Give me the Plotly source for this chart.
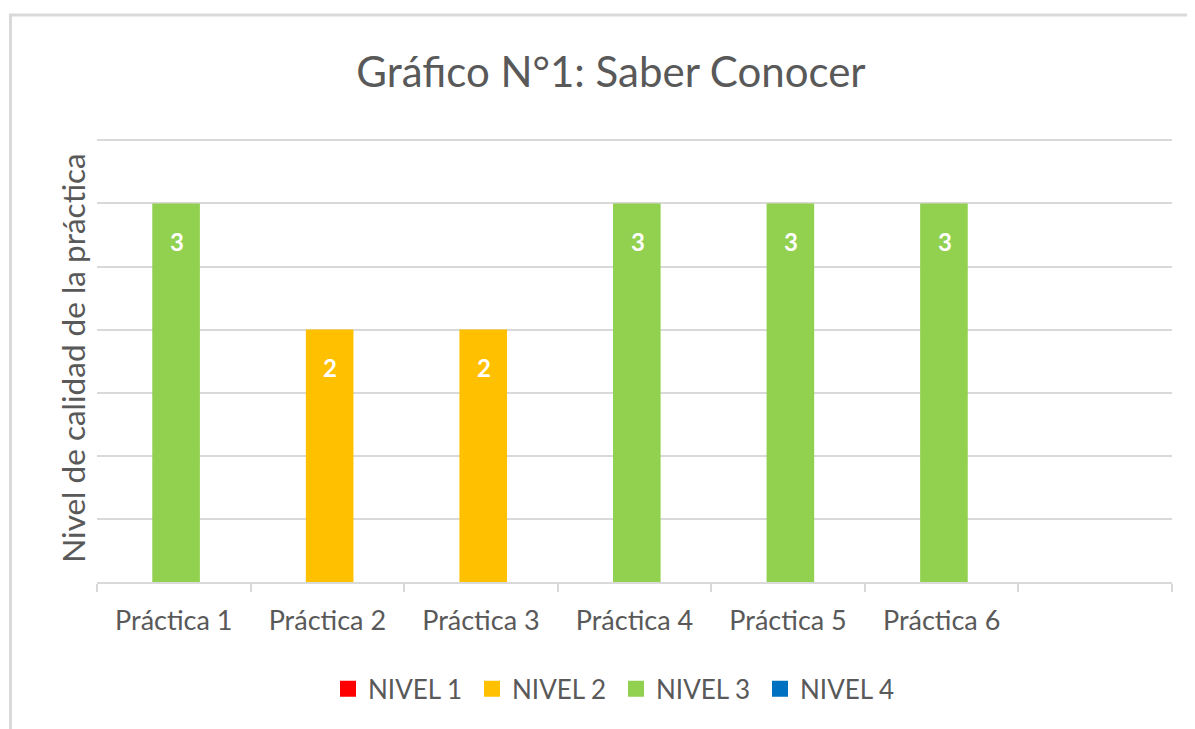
import plotly.graph_objects as go

# --- datos ---
practicas = ["Práctica 1", "Práctica 2", "Práctica 3", "Práctica 4", "Práctica 5", "Práctica 6", " "]
nivel_1 = [None, None, None, None, None, None, None]
nivel_2 = [None, 2, 2, None, None, None, None]
nivel_3 = [3, None, None, 3, 3, 3, None]
nivel_4 = [None, None, None, None, None, None, None]

series = [
    ("NIVEL 1", nivel_1, "#FF0000"),
    ("NIVEL 2", nivel_2, "#FFC000"),
    ("NIVEL 3", nivel_3, "#92D050"),
    ("NIVEL 4", nivel_4, "#0070C0"),
]

gris = "#595959"
fuente = "Lato, Carlito, Calibri, sans-serif"

fig = go.Figure()
for nombre, valores, color in series:
    fig.add_trace(go.Bar(
        x=practicas, y=valores, name=nombre, legendgroup=nombre, showlegend=False,
        marker=dict(color=color, line=dict(width=0)),
        width=0.31, offset=-0.14,
        hoverinfo="x+y+name",
    ))
    # entrada de leyenda con cuadrado más grande
    fig.add_trace(go.Scatter(
        x=[None], y=[None], mode="markers", name=nombre, legendgroup=nombre,
        marker=dict(symbol="square", size=16, color=color),
    ))

# etiquetas de datos (dentro de la barra, arriba)
anotaciones = []
for nombre, valores, color in series:
    for cat, v in zip(practicas, valores):
        if v is not None:
            anotaciones.append(dict(
                x=cat, y=v, text=f"<b>{v}</b>", showarrow=False,
                yshift=-38, xshift=3,
                font=dict(family=fuente, size=24, color="white"),
            ))

# la página añade 8 px de margen al cuerpo
OFF = 8
Y_MAX = 3.55
L = 97 - OFF
W = 1075
BASE = 582 - OFF                    # línea base en px (coordenadas de figura)
U = (582 - 140) / 3.5               # px por unidad
H = Y_MAX * U
B = 729 - BASE
T = BASE - H
def px_x(p): return (p - OFF - L) / W
def px_y(p): return (BASE - (p - OFF)) / H

fig.update_layout(
    width=1195, height=729,
    barmode="overlay",
    paper_bgcolor="white", plot_bgcolor="white",
    margin=dict(l=L, r=1195 - L - W, t=T, b=B, autoexpand=False),
    title=dict(text="Gráfico N°1: Saber Conocer", x=(611 - OFF) / 1195, xanchor="center",
               y=1 - (72 - OFF) / 729, yanchor="middle",
               font=dict(family=fuente, size=42, color=gris)),
    font=dict(family=fuente, color=gris),
    showlegend=True,
    legend=dict(orientation="h", x=px_x(616), xanchor="center", y=px_y(689), yanchor="middle",
                font=dict(family=fuente, size=26, color=gris),
                traceorder="normal", itemsizing="trace",
                entrywidth=99, entrywidthmode="pixels"),
    annotations=anotaciones,
    shapes=[dict(type="rect", xref="paper", yref="paper",
                 x0=px_x(10.5), x1=px_x(1230), y0=px_y(760), y1=px_y(14.5),
                 line=dict(color="#D9D9D9", width=3), layer="below")],
)

fig.update_xaxes(
    type="category", range=[-0.5, 6.5], automargin=False,
    tickson="boundaries", ticks="outside", ticklen=8, tickcolor="#D9D9D9", tickwidth=2,
    showline=True, linecolor="#D9D9D9", linewidth=2,
    showgrid=False, ticklabelstandoff=14,
    tickfont=dict(family=fuente, size=27, color=gris),
)
fig.update_yaxes(
    range=[0, Y_MAX], tickvals=[0.5, 1, 1.5, 2, 2.5, 3, 3.5], showticklabels=False,
    automargin=False,
    showgrid=True, gridcolor="#D9D9D9", gridwidth=2,
    zeroline=False, showline=False,
    title=dict(text="Nivel de calidad de la práctica", standoff=0,
               font=dict(family=fuente, size=31.5, color=gris)),
)

fig.write_html("out.html")
